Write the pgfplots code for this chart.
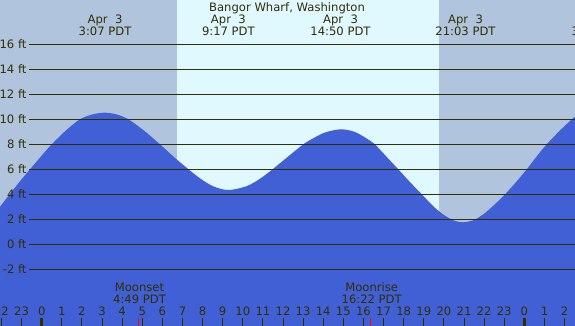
\documentclass[border=0pt]{standalone}
\usepackage{pgfplots}
\pgfplotsset{compat=1.18}
\usepackage{pgfplotstable}
\usepackage{fontspec}
\setmainfont{DejaVu Sans}
\definecolor{nightcol}{RGB}{176,196,222}
\definecolor{daycol}{RGB}{224,248,255}
\definecolor{tidecol}{RGB}{65,96,214}
\definecolor{inkcol}{RGB}{51,46,0}
\pgfplotstableread{
h ft
-2.074 3.00
-1.5 4.20
-1.0 5.20
-0.58 6.00
0.0 7.10
0.5 8.00
1.2 9.10
1.9 10.00
2.5 10.38
3.12 10.53
3.7 10.40
4.31 10.00
5.1 9.08
5.88 8.00
6.6 6.95
7.3 6.00
7.87 5.28
8.53 4.64
9.28 4.34
10.19 4.65
10.86 5.25
11.44 5.95
12.2 6.95
13.01 8.00
13.5 8.48
14.1 8.95
14.88 9.20
15.6 8.97
16.33 8.29
16.57 8.00
17.15 7.00
17.73 6.00
18.3 5.00
18.9 4.00
19.5 3.00
20.0 2.35
20.5 1.90
20.96 1.76
21.5 1.95
22.0 2.45
22.5 3.15
23.04 4.00
23.6 5.00
24.12 6.00
24.6 7.00
25.11 8.00
25.8 9.15
26.36 10.00
26.52 10.20
}\tide
\begin{document}
\begin{tikzpicture}[font=\fontsize{11.6}{13}\selectfont, text=inkcol]
\begin{axis}[
  at={(0pt,0pt)}, anchor=south west,
  scale only axis, width=575pt, height=326pt,
  xmin=-2.0736, xmax=26.5196, ymin=-6.536, ymax=19.544,
  axis on top,
  axis line style={draw=none},
  ytick=\empty,
  xtick={-2,-1,...,26},
  xticklabel={\pgfmathparse{int(mod(round(\tick)+24,24))}\pgfmathresult},
  xtick pos=bottom,
  tick align=inside,
  major tick length=8pt,
  tick style={inkcol, line width=1pt},
  xticklabel style={anchor=base, yshift=10pt, inner sep=0pt, text=inkcol, font=\fontsize{11.6}{13}\selectfont},
]
% night / day background
\fill[nightcol] (axis cs:-2.1,-7) rectangle (axis cs:6.728,20);
\fill[daycol] (axis cs:6.728,-7) rectangle (axis cs:19.756,20);
\fill[nightcol] (axis cs:19.756,-7) rectangle (axis cs:26.6,20);
% tide
\fill[tidecol] (axis cs:-2.1,-7) rectangle (axis cs:26.6,0.05);
\addplot[draw=none, fill=tidecol, smooth] table[x=h, y=ft] {\tide} \closedcycle;
% height lines and labels
\pgfplotsinvokeforeach{-2,0,2,4,6,8,10,12,14,16}{
  \draw[inkcol, line width=1pt] (axis cs:-0.6166,#1) -- (axis cs:26.6,#1);
  \node[anchor=east, inner sep=0pt] at (axis cs:-0.746,#1) {#1 ft};
}
% midnight ticks
\addplot[inkcol, line width=3.3pt] coordinates {(0,-6.536) (0,-5.896)};
\addplot[inkcol, line width=3.3pt] coordinates {(24,-6.536) (24,-5.896)};
% moonset / moonrise ticks
\addplot[red, line width=1pt] coordinates {(4.817,-6.536) (4.817,-5.896)};
\addplot[red, line width=1pt] coordinates {(16.367,-6.536) (16.367,-5.896)};
\end{axis}
% title and tide labels
\node[anchor=base] at (287pt,314.3pt) {Bangor Wharf, Washington};
\node[anchor=base] at (105pt,302.7pt) {Apr~~3};
\node[anchor=base] at (105pt,290pt) {3:07 PDT};
\node[anchor=base] at (228.4pt,302.7pt) {Apr~~3};
\node[anchor=base] at (228.4pt,290pt) {9:17 PDT};
\node[anchor=base] at (340.5pt,302.7pt) {Apr~~3};
\node[anchor=base] at (340.5pt,290pt) {14:50 PDT};
\node[anchor=base] at (465.5pt,302.7pt) {Apr~~3};
\node[anchor=base] at (465.5pt,290pt) {21:03 PDT};
\node[anchor=base] at (598pt,302.7pt) {Apr~~4};
\node[anchor=base] at (598pt,290pt) {3:38 PDT};
% moon labels
\node[anchor=base] at (139.5pt,34.3pt) {Moonset};
\node[anchor=base] at (139.5pt,22pt) {4:49 PDT};
\node[anchor=base] at (371.7pt,34.3pt) {Moonrise};
\node[anchor=base] at (371.7pt,22pt) {16:22 PDT};
\pgfresetboundingbox
\path[use as bounding box] (0,0) rectangle (575pt,326pt);
\end{tikzpicture}
\end{document}
